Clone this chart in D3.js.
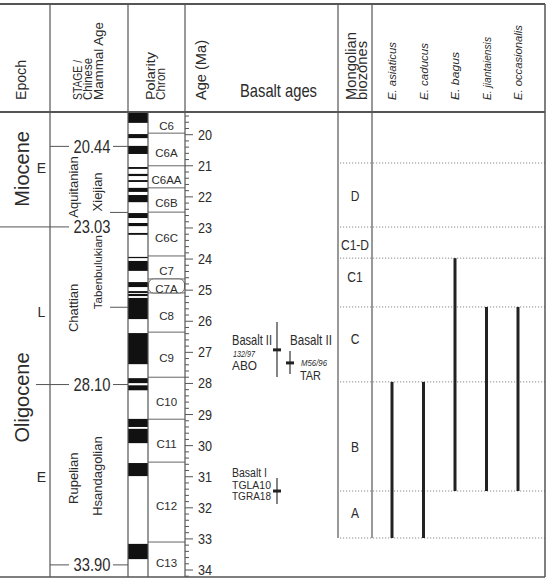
<!DOCTYPE html>
<html>
<head>
<meta charset="utf-8">
<script src="https://cdn.jsdelivr.net/npm/d3@7"></script>
<style>
  body { margin: 0; background: #fff; }
  svg { display: block; }
  text { font-family: "Liberation Sans", Arial, sans-serif; fill: #2b2b2b; }
</style>
</head>
<body>
<div id="chart"></div>
<script>
// ---- data (ages in Ma) ----
const epochs = [{name: "Miocene", at: 21.1}, {name: "Oligocene", at: 28.45}];
const subEpochs = [{name: "E", at: 21.07}, {name: "L", at: 25.69}, {name: "E", at: 31.0}];
const stages = [{name: "Aquitanian", at: 21.68}, {name: "Chattian", at: 25.57}, {name: "Rupelian", at: 31.05}];
const mammalAges = [{name: "Xiejian", at: 21.84}, {name: "Tabenbulukian", at: 24.42}, {name: "Hsandagolian", at: 30.98}];
const stageBounds = [20.44, 23.03, 28.10, 33.90];
const mammalBounds = [22.5, 25.55];

const normalPolarity = [
  [19.2, 19.62], [19.98, 20.11], [20.36, 20.62], [21.04, 21.10], [21.26, 21.33],
  [21.46, 21.52], [21.71, 21.84], [21.94, 22.17], [22.52, 22.68], [22.84, 22.94],
  [23.16, 23.22], [23.93, 23.97], [24.06, 24.38], [24.74, 24.90], [25.03, 25.09],
  [25.12, 25.19], [25.25, 25.93], [26.38, 27.38], [27.83, 27.99], [28.06, 28.22],
  [29.14, 29.40], [29.46, 29.92], [30.56, 30.98], [33.16, 33.65]
];
const chronNames = ["C6", "C6A", "C6AA", "C6B", "C6C", "C7", "C7A", "C8", "C9", "C10", "C11", "C12", "C13"];
const chronBounds = [19.95, 21.0, 21.71, 22.49, 23.90, 24.64, 25.09, 26.35, 27.80, 29.15, 30.53, 33.10];

const ageTicks = d3.range(20, 35);

const basalts = [
  {name: "Basalt II", sample: "132/97", site: "ABO", age: 26.92, min: 26.02, max: 27.79},
  {name: "Basalt II", sample: "M56/96", site: "TAR", age: 27.34, min: 26.96, max: 27.70},
  {name: "Basalt I", sample: "TGLA10", site: "TGRA18", age: 31.46, min: 31.04, max: 31.88}
];

const zoneNames = ["D", "C1-D", "C1", "C", "B", "A"];
const zoneBounds = [20.91, 22.97, 23.97, 25.54, 27.95, 31.46, 32.97];
const zoneLabelAt = [21.94, 23.52, 24.57, 26.54, 30.02, 32.14];

const species = ["E. asiaticus", "E. caducus", "E. bagus", "E. jiantaiensis", "E. occasionalis"];
const speciesOldest = ["A", "A", "B", "B", "B"];
const speciesYoungest = ["B", "B", "C1", "C", "C"];

// ---- layout ----
const width = 547, height = 579;
const frameTop = 4, headBottom = 112, frameBottom = 577, frameRight = 545;
const colX = {epoch: 50, pol: 128, polR: 148, age: 185, zone: 338, spec: 372};

const svg = d3.select("#chart").append("svg")
  .attr("width", width).attr("height", height);

const y = d3.scaleLinear().domain([20, 34]).range([134.7, 570]);
const clampY = a => Math.max(headBottom, Math.min(frameBottom, y(a)));

function label(g, s, x, yy, o = {}) {
  let tr = "translate(" + x + "," + yy + ")";
  if (o.rot) tr += " rotate(" + o.rot + ")";
  if (o.sx || o.sy) tr += " scale(" + (o.sx || 1) + "," + (o.sy || 1) + ")";
  const t = g.append("text")
    .attr("transform", tr)
    .attr("font-size", o.size || 12)
    .attr("text-anchor", o.anchor || "start")
    .text(s);
  if (o.italic) t.attr("font-style", "italic");
  if (o.len) t.attr("textLength", o.len).attr("lengthAdjust", "spacingAndGlyphs");
  return t;
}

function line(x1, y1, x2, y2, stroke, w) {
  return svg.append("line")
    .attr("x1", x1).attr("y1", y1).attr("x2", x2).attr("y2", y2)
    .attr("stroke", stroke || "#555").attr("stroke-width", w || 1);
}

// polarity column
svg.append("g").selectAll("rect")
  .data(normalPolarity)
  .join("rect")
  .attr("x", colX.pol).attr("width", colX.polR - colX.pol)
  .attr("y", d => clampY(d[0]))
  .attr("height", d => clampY(d[1]) - clampY(d[0]))
  .attr("fill", "#111");

// chron boxes
const chronEdges = [y.invert(headBottom)].concat(chronBounds, [y.invert(frameBottom)]);
chronBounds.forEach(b => line(colX.polR, y(b), colX.age, y(b), "#666", 1));
const c7a = chronNames.indexOf("C7A");
svg.append("rect")
  .attr("x", colX.polR + 0.5).attr("width", colX.age - colX.polR - 1)
  .attr("y", y(chronEdges[c7a])).attr("height", y(chronEdges[c7a + 1]) - y(chronEdges[c7a]))
  .attr("rx", 5).attr("fill", "#fff").attr("stroke", "#666");
const gChron = svg.append("g");
chronNames.forEach((c, i) => {
  const mid = (y(chronEdges[i]) + y(chronEdges[i + 1])) / 2;
  label(gChron, c, (colX.polR + colX.age) / 2, mid + 7.5, {size: 11.5, anchor: "middle"});
});

// age axis ticks
const minor = d3.range(19.4, 34.21, 0.2);
svg.append("g").selectAll("line")
  .data(minor)
  .join("line")
  .attr("x1", colX.age).attr("x2", d => Math.abs(d - Math.round(d)) < 0.01 ? colX.age + 8 : colX.age + 4)
  .attr("y1", d => y(d)).attr("y2", d => y(d))
  .attr("stroke", "#555").attr("stroke-width", 1);
const gAge = svg.append("g");
ageTicks.forEach(a => label(gAge, a, 198, y(a) + 5, {size: 14, sx: 0.9}));

// epoch / stage boundaries
const gB = svg.append("g");
stageBounds.forEach(b => {
  const yy = y(b) - 2;
  const x0 = b === 23.03 ? 0 : (b === 28.10 ? 36 : colX.epoch);
  line(x0, yy, 69, yy, "#555", 1);
  if (b !== 23.03) line(113, yy, colX.pol, yy, "#555", 1);
  label(gB, b.toFixed(2), 92, yy + 6.5, {size: 18, anchor: "middle", sx: 0.82});
});
mammalBounds.forEach(b => line(110, y(b), colX.pol, y(b), "#555", 1));

epochs.forEach(e => label(gB, e.name, 28.5, y(e.at), {size: 20, rot: -90, anchor: "middle"}));
subEpochs.forEach(e => label(gB, e.name, 41.5, y(e.at) + 5, {size: 14, anchor: "middle"}));
stages.forEach(s => label(gB, s.name, 78, y(s.at), {size: 13, rot: -90, anchor: "middle"}));
mammalAges.forEach(s => label(gB, s.name, 102, y(s.at),
  {size: s.name === "Tabenbulukian" ? 11.5 : 13, rot: -90, anchor: "middle"}));

// basalt ages
const gBas = svg.append("g");
const basX = [277, 290, 277];
basalts.forEach((d, i) => {
  const x = basX[i];
  line(x, y(d.min), x, y(d.max), "#333", 1.2);
  line(x - 4, y(d.age), x + 4, y(d.age), "#222", 3);
});
label(gBas, basalts[0].name, 232, 345, {size: 15, len: 40});
label(gBas, basalts[0].sample, 233, 356.5, {size: 8.5, italic: true, len: 22});
label(gBas, basalts[0].site, 232, 370, {size: 13, len: 25});
label(gBas, basalts[1].name, 290, 345, {size: 15, len: 42});
label(gBas, basalts[1].sample, 301, 366, {size: 8.5, italic: true, len: 26});
label(gBas, basalts[1].site, 300, 380, {size: 13, len: 21});
label(gBas, basalts[2].name, 232, 477, {size: 12.5, len: 35});
label(gBas, basalts[2].sample, 232, 489, {size: 11.5, len: 39});
label(gBas, basalts[2].site, 232, 500, {size: 11.5, len: 39});

// biozones
zoneBounds.forEach(b => line(340, y(b), frameRight, y(b), "#888", 1).attr("stroke-dasharray", "1.2,1.8"));
const gZone = svg.append("g");
zoneNames.forEach((z, i) => label(gZone, z, 355, y(zoneLabelAt[i]) + 5.5, {size: 15, anchor: "middle", sx: 0.8}));

// species ranges
const xs = d3.scalePoint().domain(species).range([392, 518]);
const zoneTop = z => zoneBounds[zoneNames.indexOf(z)];
const zoneBase = z => zoneBounds[zoneNames.indexOf(z) + 1];
svg.append("g").selectAll("line")
  .data(species)
  .join("line")
  .attr("x1", d => xs(d)).attr("x2", d => xs(d))
  .attr("y1", (d, i) => y(zoneTop(speciesYoungest[i])))
  .attr("y2", (d, i) => y(zoneBase(speciesOldest[i])))
  .attr("stroke", "#222").attr("stroke-width", 3);

// frame and column lines
line(0, frameTop, frameRight, frameTop, "#555", 2);
line(0, headBottom, frameRight, headBottom, "#555", 2);
line(0, frameBottom, frameRight, frameBottom, "#555", 1.5);
line(frameRight, frameTop, frameRight, frameBottom, "#555", 1.5);
[colX.epoch, colX.pol, colX.age].forEach(x => line(x, frameTop, x, frameBottom, "#555", 1.2));
line(colX.polR, headBottom, colX.polR, frameBottom, "#555", 1.2);
[colX.zone, colX.spec].forEach(x => line(x, frameTop, x, y(zoneBounds[zoneBounds.length - 1]), "#555", 1.2));

// header
const gH = svg.append("g");
const hy = 100;
label(gH, "Epoch", 26, hy, {size: 14.5, rot: -90, len: 40});
label(gH, "STAGE /", 81.7, hy, {size: 13, rot: -90, len: 40});
label(gH, "Chinese", 92.3, hy, {size: 13, rot: -90, len: 42});
label(gH, "Mammal Age", 103, hy, {size: 13, rot: -90, len: 78});
label(gH, "Polarity", 154.5, hy, {size: 13.5, rot: -90, len: 48});
label(gH, "Chron", 165, hy, {size: 13.5, rot: -90, len: 32});
label(gH, "Age (Ma)", 205.5, hy, {size: 14.5, rot: -90, len: 60});
label(gH, "Basalt ages", 240, 96.5, {size: 19, len: 77});
label(gH, "Mongolian", 355.5, hy, {size: 14.7, rot: -90, len: 68});
label(gH, "biozones", 367, hy, {size: 14.7, rot: -90, len: 59});
const specLen = [58, 57, 48, 63, 75];
species.forEach((s, i) => label(gH, s, xs(s) + 4, hy, {size: 11.3, rot: -90, italic: true, len: specLen[i]}));
</script>
</body>
</html>
